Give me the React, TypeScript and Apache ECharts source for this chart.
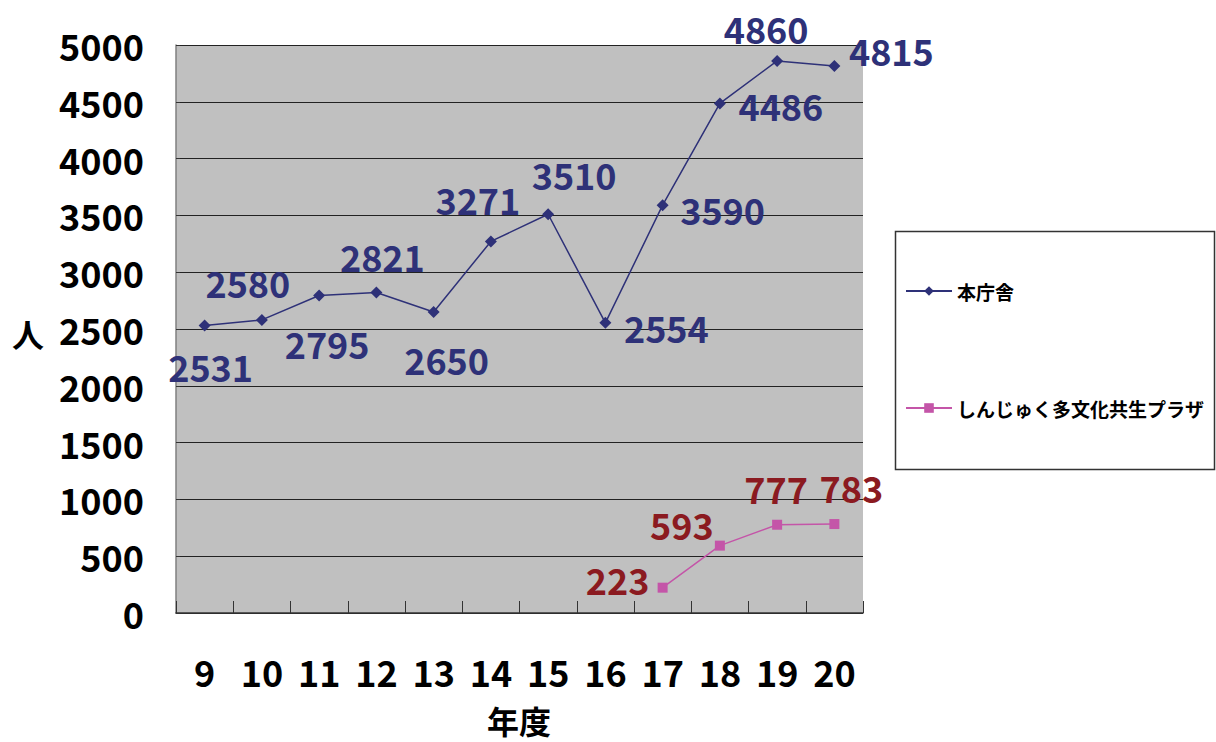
import React, { useEffect, useRef } from "react";
import * as echarts from "echarts";

// 年度 (fiscal years, Heisei)
const years = ["9", "10", "11", "12", "13", "14", "15", "16", "17", "18", "19", "20"];

// 本庁舎 visitors
const honchosha = [2531, 2580, 2795, 2821, 2650, 3271, 3510, 2554, 3590, 4486, 4860, 4815];

// しんじゅく多文化共生プラザ visitors (opened in 17)
const plaza: (number | null)[] = [null, null, null, null, null, null, null, null, 223, 593, 777, 783];

// value-axis range
const yMin = 0;
const yMax = 5000;
const yStep = 500;

// where each value label sits relative to its point
const honchoshaLabelOffsets: [number, number][] = [
  [6, 41], [-14, -38], [8, 48], [6, -37], [13, 47], [-13, -42],
  [26, -40], [61, 4], [60, 4], [61, 2], [-11, -33], [57, -16],
];
const plazaLabelOffsets: [number, number][] = [
  [0, 0], [0, 0], [0, 0], [0, 0], [0, 0], [0, 0],
  [0, 0], [0, 0], [-45, -9], [-38, -22], [-1, -37], [17, -37],
];

const FONT = "'Noto Sans CJK JP', 'Noto Sans', sans-serif";
const NAVY = "#2E3178";
const PINK = "#C455A8";
const DARKRED = "#8B1A20";

export default function App() {
  const ref = useRef<HTMLDivElement>(null);

  useEffect(() => {
    if (!ref.current) return;
    const chart = echarts.init(ref.current, undefined, { renderer: "svg" });

    const labelBase = {
      show: true,
      position: "inside" as const,
      fontFamily: FONT,
      fontWeight: "bold" as const,
      fontSize: 36,
      align: "center" as const,
      verticalAlign: "middle" as const,
    };

    chart.setOption({
      animation: false,
      backgroundColor: "#ffffff",
      grid: { left: 176, right: 353, top: 45, bottom: 129, show: true, backgroundColor: "#C0C0C0", borderWidth: 0 },
      xAxis: {
        type: "category",
        data: years,
        boundaryGap: true,
        axisLine: { show: true, lineStyle: { color: "#333333", width: 1.5 } },
        axisTick: { show: true, inside: true, length: 12, lineStyle: { color: "#333333" } },
        axisLabel: {
          color: "#000000",
          fontFamily: FONT,
          fontWeight: "bold",
          fontSize: 36,
          margin: 40,
          interval: 0,
        },
        splitLine: { show: false },
      },
      yAxis: {
        type: "value",
        min: yMin,
        max: yMax,
        interval: yStep,
        axisLine: { show: true, lineStyle: { color: "#808080", width: 1.5 } },
        axisTick: { show: true, inside: true, length: 4, lineStyle: { color: "#333333" } },
        axisLabel: {
          color: "#000000",
          fontFamily: FONT,
          fontWeight: "bold",
          fontSize: 36,
          margin: 32,
          formatter: (v: number) => String(v),
        },
        splitLine: { show: true, lineStyle: { color: "#222222", width: 1 } },
      },
      legend: {
        orient: "vertical",
        left: 905,
        top: 281,
        itemWidth: 46,
        itemHeight: 12,
        itemGap: 97,
        padding: 0,
        textStyle: {
          color: "#000000",
          fontFamily: FONT,
          fontWeight: "bold",
          fontSize: 19,
          lineHeight: 20,
        },
        data: ["本庁舎", "しんじゅく多文化共生プラザ"],
      },
      graphic: [
        {
          type: "rect",
          left: 893,
          top: 229,
          shape: { width: 319, height: 238 },
          style: { fill: "none", stroke: "#333333", lineWidth: 1.5 },
          z: -1,
        },
        {
          type: "text",
          x: 28,
          y: 333,
          style: {
            text: "人",
            fontFamily: FONT,
            fontWeight: "bold",
            fontSize: 32,
            fill: "#000000",
            align: "center",
            verticalAlign: "middle",
          },
        },
        {
          type: "text",
          x: 519,
          y: 720,
          style: {
            text: "年度",
            fontFamily: FONT,
            fontWeight: "bold",
            fontSize: 32,
            fill: "#000000",
            align: "center",
            verticalAlign: "middle",
          },
        },
      ],
      series: [
        {
          name: "本庁舎",
          type: "line",
          data: honchosha.map((v, i) => ({ value: v, label: { offset: honchoshaLabelOffsets[i] } })),
          symbol: "diamond",
          symbolSize: 12,
          itemStyle: { color: NAVY },
          lineStyle: { color: NAVY, width: 1.5 },
          label: { ...labelBase, color: NAVY },
          z: 3,
        },
        {
          name: "しんじゅく多文化共生プラザ",
          type: "line",
          data: plaza.map((v, i) => (v == null ? "-" : { value: v, label: { offset: plazaLabelOffsets[i] } })),
          symbol: "rect",
          symbolSize: 10,
          itemStyle: { color: PINK },
          lineStyle: { color: PINK, width: 1.5 },
          label: { ...labelBase, color: DARKRED },
          z: 3,
        },
      ],
    });

    return () => chart.dispose();
  }, []);

  return (
    <div
      ref={ref}
      style={{ position: "fixed", left: 0, top: 0, width: 1216, height: 742, background: "#ffffff" }}
    />
  );
}
